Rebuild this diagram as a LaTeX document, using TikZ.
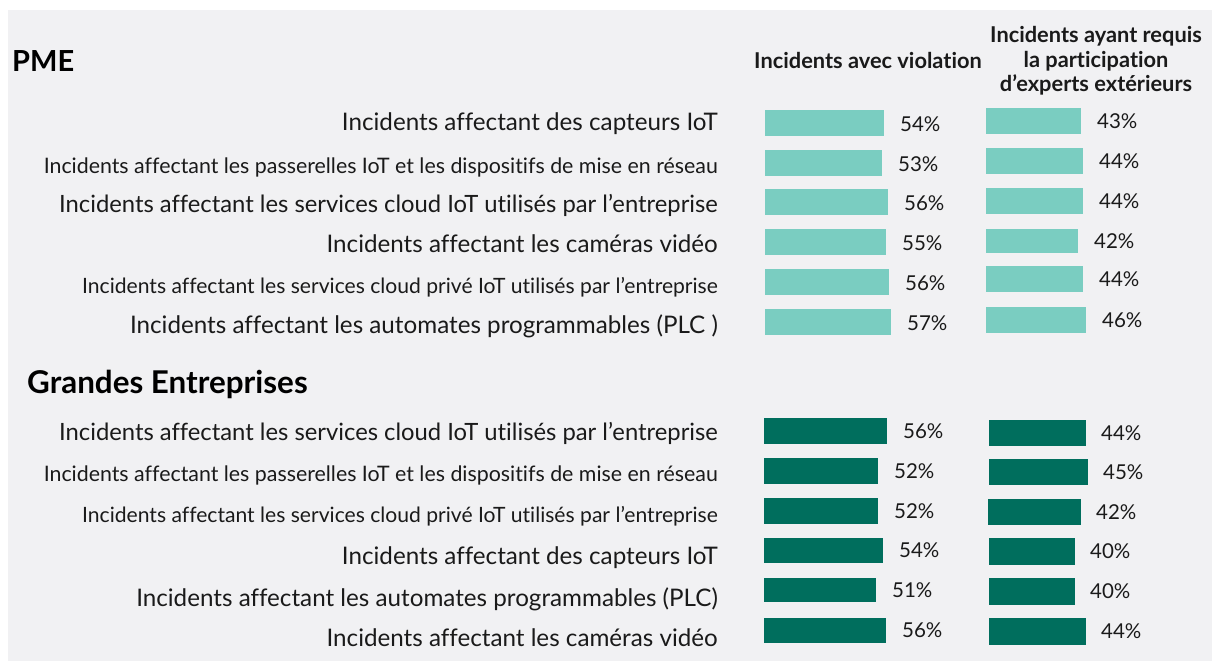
\documentclass[tikz,border=0pt]{standalone}
\usepackage{fontspec}
\setmainfont{Lato}[Ligatures=NoCommon]
\definecolor{bgpanel}{HTML}{F1F1F3}
\definecolor{lightteal}{HTML}{7ACDC1}
\definecolor{darkteal}{HTML}{006E5D}
\definecolor{txt}{HTML}{1A1A1A}
\newcommand{\catbig}{\fontsize{24.2}{24}\selectfont}
\newcommand{\catcloud}{\fontsize{23.8}{24}\selectfont}
\newcommand{\catpass}{\fontsize{21.35}{21}\selectfont}
\newcommand{\catprive}{\fontsize{21.1}{21}\selectfont}
\tikzset{
  barbox/.style={draw=none, inner sep=0pt, outer sep=0pt, anchor=north west, minimum height=26pt},
  barL/.style={barbox, fill=lightteal},
  barD/.style={barbox, fill=darkteal},
  pct/.style={anchor=west, inner sep=0pt, text=txt, font=\fontsize{20.5}{20}\selectfont},
  cat/.style={anchor=base east, inner sep=0pt, text=txt},
  grouptitle/.style={anchor=base west, inner sep=0pt, text=black, font=\bfseries\fontsize{29}{29}\selectfont},
  colhead/.style={anchor=base, inner sep=0pt, text=txt, font=\bfseries\fontsize{21.8}{22}\selectfont}
}
\begin{document}
\begin{tikzpicture}[x=1pt,y=-1pt]
\useasboundingbox (0,0) rectangle (1218,661);
\fill[bgpanel] (8,10) rectangle (1212,661);

% titles
\node[grouptitle] (pme) at (12,72) {PME};
\node[grouptitle, font=\bfseries\fontsize{31.4}{31}\selectfont] (ge) at (27,393) {Grandes Entreprises};
\node[colhead] (h1) at (868,68) {Incidents avec violation};
\node[colhead] (h2a) at (1096,43) {Incidents ayant requis};
\node[colhead] (h2b) at (1096,67) {la participation};
\node[colhead] (h2c) at (1096,92) {d’experts extérieurs};

% ---------- PME ----------
\node[cat, font=\catbig]   (pc1) at (718,130) {Incidents affectant des capteurs IoT};
\node[cat, font=\catpass]  (pc2) at (718,173) {Incidents affectant les passerelles IoT et les dispositifs de mise en réseau};
\node[cat, font=\catcloud] (pc3) at (718,212) {Incidents affectant les services cloud IoT utilisés par l’entreprise};
\node[cat, font=\catbig]   (pc4) at (718,252) {Incidents affectant les caméras vidéo};
\node[cat, font=\catprive] (pc5) at (718,293) {Incidents affectant les services cloud privé IoT utilisés par l’entreprise};
\node[cat, font=\catbig]   (pc6) at (718,333) {Incidents affectant les automates programmables (PLC )};

\node[barL, minimum width=119pt] (pa1) at (765,110) {};
\node[barL, minimum width=117pt] (pa2) at (765,150) {};
\node[barL, minimum width=123pt] (pa3) at (765,189) {};
\node[barL, minimum width=121pt] (pa4) at (765,229) {};
\node[barL, minimum width=124pt] (pa5) at (765,269) {};
\node[barL, minimum width=126pt] (pa6) at (765,309) {};
\node[pct] (pa1t) at ([xshift=16pt,yshift=-1pt]pa1.east) {54\%};
\node[pct] (pa2t) at ([xshift=16pt,yshift=-1pt]pa2.east) {53\%};
\node[pct] (pa3t) at ([xshift=16pt,yshift=-1pt]pa3.east) {56\%};
\node[pct] (pa4t) at ([xshift=16pt,yshift=-1pt]pa4.east) {55\%};
\node[pct] (pa5t) at ([xshift=16pt,yshift=-1pt]pa5.east) {56\%};
\node[pct] (pa6t) at ([xshift=16pt,yshift=-1pt]pa6.east) {57\%};

\node[barL, minimum width=95pt]  (pb1) at (986,108) {};
\node[barL, minimum width=97pt]  (pb2) at (986,148) {};
\node[barL, minimum width=97pt]  (pb3) at (986,188) {};
\node[barL, minimum width=92pt, minimum height=24pt] (pb4) at (986,229) {};
\node[barL, minimum width=97pt]  (pb5) at (986,266) {};
\node[barL, minimum width=100pt] (pb6) at (986,307) {};
\node[pct] (pb1t) at ([xshift=16pt]pb1.east) {43\%};
\node[pct] (pb2t) at ([xshift=16pt]pb2.east) {44\%};
\node[pct] (pb3t) at ([xshift=16pt]pb3.east) {44\%};
\node[pct] (pb4t) at ([xshift=16pt]pb4.east) {42\%};
\node[pct] (pb5t) at ([xshift=16pt]pb5.east) {44\%};
\node[pct] (pb6t) at ([xshift=16pt]pb6.east) {46\%};

% ---------- Grandes Entreprises ----------
\node[cat, font=\catcloud] (gc1) at (718,440) {Incidents affectant les services cloud IoT utilisés par l’entreprise};
\node[cat, font=\catpass]  (gc2) at (718,481) {Incidents affectant les passerelles IoT et les dispositifs de mise en réseau};
\node[cat, font=\catprive] (gc3) at (718,522) {Incidents affectant les services cloud privé IoT utilisés par l’entreprise};
\node[cat, font=\catbig]   (gc4) at (718,564) {Incidents affectant des capteurs IoT};
\node[cat, font=\catbig]   (gc5) at (718,606) {Incidents affectant les automates programmables (PLC)};
\node[cat, font=\catbig]   (gc6) at (718,646) {Incidents affectant les caméras vidéo};

\node[barD, minimum width=123pt] (ga1) at (764,418) {};
\node[barD, minimum width=114pt] (ga2) at (764,458) {};
\node[barD, minimum width=114pt] (ga3) at (764,498) {};
\node[barD, minimum width=119pt, minimum height=25pt] (ga4) at (764,538) {};
\node[barD, minimum width=112pt, minimum height=24pt] (ga5) at (764,578) {};
\node[barD, minimum width=122pt, minimum height=25pt] (ga6) at (764,618) {};
\node[pct] (ga1t) at ([xshift=16pt]ga1.east) {56\%};
\node[pct] (ga2t) at ([xshift=16pt]ga2.east) {52\%};
\node[pct] (ga3t) at ([xshift=16pt]ga3.east) {52\%};
\node[pct] (ga4t) at ([xshift=16pt]ga4.east) {54\%};
\node[pct] (ga5t) at ([xshift=16pt]ga5.east) {51\%};
\node[pct] (ga6t) at ([xshift=16pt]ga6.east) {56\%};

\node[barD, minimum width=97pt]  (gb1) at (989,420) {};
\node[barD, minimum width=99pt]  (gb2) at (989,459) {};
\node[barD, minimum width=93pt]  (gb3) at (988,499) {};
\node[barD, minimum width=86pt, minimum height=27pt] (gb4) at (989,538) {};
\node[barD, minimum width=86pt, minimum height=27pt] (gb5) at (989,578) {};
\node[barD, minimum width=97pt, minimum height=27pt] (gb6) at (989,618) {};
\node[pct] (gb1t) at ([xshift=15pt]gb1.east) {44\%};
\node[pct] (gb2t) at ([xshift=15pt]gb2.east) {45\%};
\node[pct] (gb3t) at ([xshift=15pt]gb3.east) {42\%};
\node[pct] (gb4t) at ([xshift=15pt]gb4.east) {40\%};
\node[pct] (gb5t) at ([xshift=15pt]gb5.east) {40\%};
\node[pct] (gb6t) at ([xshift=15pt]gb6.east) {44\%};
\end{tikzpicture}
\end{document}
